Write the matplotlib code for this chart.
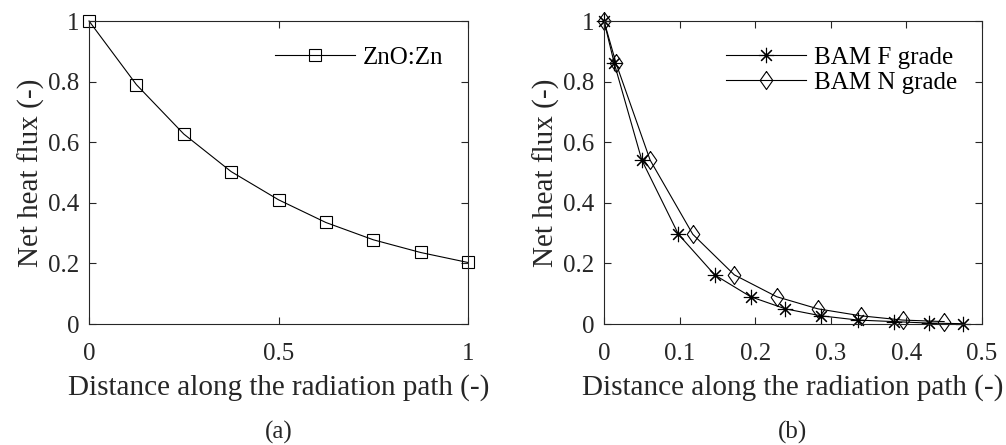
import numpy as np
import matplotlib
matplotlib.use('Agg')
import matplotlib.pyplot as plt

plt.rcParams['font.family'] = ['Liberation Serif', 'DejaVu Serif']
plt.rcParams['font.size'] = 18

INK = '#262626'

# (a) ZnO:Zn
dist_a = [0.0, 0.125, 0.25, 0.375, 0.5, 0.625, 0.75, 0.875, 1.0]
flux_a = [1.0, 0.79, 0.627, 0.503, 0.41, 0.335, 0.278, 0.236, 0.203]

# (b) BAM grades
dist_f = [0.0, 0.0136, 0.050, 0.0985, 0.1465, 0.194, 0.240, 0.287, 0.336, 0.383, 0.430, 0.475]
flux_f = [1.0, 0.86, 0.541, 0.296, 0.162, 0.09, 0.05, 0.027, 0.013, 0.008, 0.003, 0.001]
dist_n = [0.0, 0.016, 0.061, 0.1175, 0.1725, 0.2285, 0.283, 0.340, 0.395, 0.450]
flux_n = [1.0, 0.86, 0.541, 0.296, 0.162, 0.09, 0.05, 0.027, 0.013, 0.008]

xticks_a = [0, 0.5, 1]
xticks_b = [0, 0.1, 0.2, 0.3, 0.4, 0.5]
yticks = [0, 0.2, 0.4, 0.6, 0.8, 1]

# MATLAB-ish tall diamond
DIAMOND = [(0, 1), (0.7, 0), (0, -1), (-0.7, 0), (0, 1)]


def fmt(v):
    return f'{v:g}'


def style_axes(ax, xticks, xlim):
    ax.set_xlim(*xlim)
    ax.set_ylim(0, 1)
    ax.set_xticks(xticks)
    ax.set_xticklabels([fmt(v) for v in xticks])
    ax.set_yticks(yticks)
    ax.set_yticklabels([fmt(v) for v in yticks])
    ax.tick_params(direction='in', top=True, right=True, length=5, width=0.8,
                   colors=INK, labelcolor=INK)
    ax.tick_params(axis='x', pad=14)
    ax.tick_params(axis='y', pad=7)
    for s in ax.spines.values():
        s.set_color(INK)
        s.set_linewidth(0.8)
    ax.set_xlabel('Distance along the radiation path (-)', color=INK, labelpad=6, fontsize=21)
    ax.set_ylabel('Net heat flux (-)', color=INK, labelpad=2, fontsize=21)


fig = plt.figure(figsize=(10.06, 4.45), dpi=100)
ax1 = fig.add_axes([0.0885, 0.2719, 0.3767, 0.6809])
ax2 = fig.add_axes([0.6004, 0.2719, 0.3757, 0.6809])

ax1.plot(dist_a, flux_a, color='k', lw=0.8, marker='s', ms=9, mfc='none',
         mec='k', mew=0.8, label='ZnO:Zn', clip_on=False)
style_axes(ax1, xticks_a, (0, 1))
ax1.legend(loc='upper right', frameon=False, handlelength=3.2, handletextpad=0.3,
           borderaxespad=0.6, fontsize=18)

ax2.plot(dist_f, flux_f, color='k', lw=0.8, marker=(8, 2, 0), ms=11, mec='k',
         mew=0.8, label='BAM F grade', clip_on=False)
ax2.plot(dist_n, flux_n, color='k', lw=0.8, marker=DIAMOND, ms=13, mfc='none',
         mec='k', mew=0.8, label='BAM N grade', clip_on=False)
style_axes(ax2, xticks_b, (0, 0.5))
ax2.legend(loc='upper right', frameon=False, handlelength=3.2, handletextpad=0.3,
           borderaxespad=0.6, labelspacing=0.1, fontsize=18)

fig.text(0.277, 0.029, '(a)', ha='center', va='center', color=INK)
fig.text(0.788, 0.029, '(b)', ha='center', va='center', color=INK)

fig.savefig('out.png', dpi=100)
